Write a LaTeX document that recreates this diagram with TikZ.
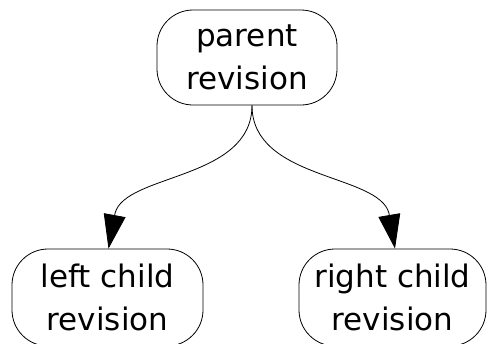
\documentclass[tikz,border=0pt]{standalone}
\usepackage{fontspec}
\setmainfont{DejaVu Sans}
\usetikzlibrary{arrows.meta,calc}
\newcommand{\twolns}[2]{\raisebox{-2.5pt}{\vbox{\halign{\hfil##\hfil\cr #1\cr #2\cr}}}}
\tikzset{
  rev/.style={draw, line width=0.8pt, rounded corners=36pt,
    minimum height=95pt, inner sep=0pt,
    font=\fontsize{31}{43}\selectfont},
  edgeline/.style={draw, line width=0.8pt, -{Triangle[length=34pt,width=22pt]}}
}
\begin{document}
\begin{tikzpicture}[x=1pt,y=-1pt]
\useasboundingbox (0,0) rectangle (487,343);
\node[rev, minimum width=180pt] (p) at (247,57.5) {\twolns{parent}{revision}};
\node[rev, minimum width=191pt, minimum height=97pt] (l) at (107.5,297.5) {\twolns{left child}{revision}};
\node[rev, minimum width=187pt, minimum height=97pt] (r) at (392.5,297.5) {\twolns{right child}{revision}};
\coordinate (s) at ($(p.south)+(5,0)$);
\draw[edgeline] (s) .. controls ($(s)+(0,75)$) and ($(s)+(-127,68)$) .. ($(s)+(-137,108)$) -- ($(l.north)+(1,0)$);
\draw[edgeline] (s) .. controls ($(s)+(0,75)$) and ($(s)+(127,68)$) .. ($(s)+(137,108)$) -- ($(r.north)+(2.5,0)$);
\end{tikzpicture}
\end{document}
